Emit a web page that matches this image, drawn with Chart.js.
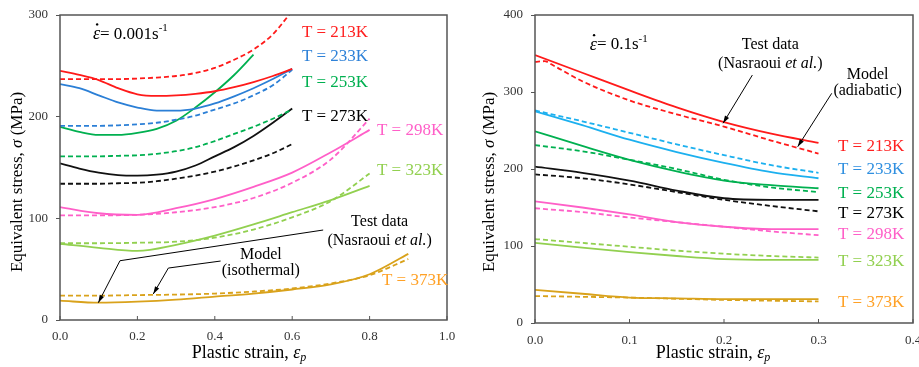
<!DOCTYPE html>
<html>
<head>
<meta charset="utf-8">
<script src="https://cdn.jsdelivr.net/npm/chart.js@4.4.0/dist/chart.umd.min.js"></script>
<style>
  html, body { margin: 0; padding: 0; background: #fff; }
  #wrap { position: relative; width: 919px; height: 367px; overflow: hidden; }
  canvas { position: absolute; top: 0; }
  #chartLeft { left: 0; }
  #chartRight { left: 460px; }
</style>
</head>
<body>
<div id="wrap">
  <canvas id="chartLeft" width="460" height="367"></canvas>
  <canvas id="chartRight" width="459" height="367"></canvas>
</div>
<script>
// ---- strain rate 0.001 /s (isothermal model) ----
const slowStrain = [0, 0.05, 0.1, 0.15, 0.2, 0.25, 0.3, 0.35, 0.4, 0.45, 0.5, 0.55, 0.6];
const slowStrain253 = [0, 0.05, 0.1, 0.15, 0.2, 0.25, 0.3, 0.35, 0.4, 0.45, 0.5];
const slowStrainLong = [0, 0.1, 0.2, 0.3, 0.4, 0.5, 0.6, 0.7, 0.8];
const slowStrain373 = [0, 0.1, 0.2, 0.3, 0.4, 0.5, 0.6, 0.7, 0.8, 0.9];

const slowTest213 = [245, 241, 236, 228, 222, 220.5, 221, 222.5, 225, 229, 234, 240, 247];
const slowModel213 = [237, 237, 237, 237, 237.5, 238.5, 240, 243, 248, 256, 266, 281, 304];
const slowTest233 = [232, 228, 221, 214, 209, 206, 206, 208, 213, 220, 228, 237, 247];
const slowModel233 = [191, 191, 191, 191.5, 192.5, 194, 197, 201, 207, 213, 221, 231, 246];
const slowTest253 = [190, 185, 182, 182, 184, 188, 196, 209, 224, 241, 261];
const slowModel253 = [161, 161, 161, 161.5, 162, 163.5, 166, 170, 176, 183, 190, 198, 207];
const slowTest273 = [154, 149, 145, 142.5, 142, 143, 146, 152, 161, 170, 181, 194, 208];
const slowModel273 = [134, 134, 134, 134.5, 135, 136.5, 139, 142, 146, 151, 157, 164, 173];
const slowTest298 = [111, 105, 103.5, 110, 119, 131, 145, 165, 187];
const slowModel298 = [103, 103, 103.5, 106, 111, 120, 135, 158, 198];
const slowTest323 = [75, 71, 68, 74, 83, 94, 106, 118, 132];
const slowModel323 = [75.5, 75.5, 76, 77, 81, 89, 101, 117, 144];
const slowTest373 = [19, 17, 18, 20, 23, 26, 30, 35, 45, 65];
const slowModel373 = [24, 24, 24.5, 25, 26, 28, 31, 36, 44, 60];

// ---- strain rate 0.1 /s (adiabatic model) ----
const fastStrain = [0, 0.05, 0.1, 0.15, 0.2, 0.25, 0.3];
const fastStrain213 = [0, 0.01, 0.02, 0.05, 0.1, 0.15, 0.2, 0.25, 0.3];

const fastTest213 = [348, 325, 302, 280, 261, 246, 234];
const fastModel213 = [339, 340, 334, 314, 289, 271, 255, 237, 220];
const fastTest233 = [275, 257, 238, 222, 208, 196, 188];
const fastModel233 = [276, 262, 247, 232, 218, 205, 195];
const fastTest253 = [249, 230, 212, 197, 185, 179, 175];
const fastModel253 = [231, 223, 212, 200, 186, 176, 170];
const fastTest273 = [203, 195, 185, 172, 162, 160, 160];
const fastModel273 = [193, 188, 180, 170, 160, 152, 145];
const fastTest298 = [158, 150, 141, 131, 125, 122, 122];
const fastModel298 = [149, 144, 137, 131, 125, 119, 114];
const fastTest323 = [104, 98, 92, 87, 83, 82, 82];
const fastModel323 = [109, 104, 99, 94, 90, 87, 85];
const fastTest373 = [43, 38, 33, 32, 31, 31, 31];
const fastModel373 = [35, 34, 33, 31.5, 30, 29, 28];

const SERIF = '"Liberation Serif", "DejaVu Serif", serif';

function pts(xs, ys) {
  return xs.map((x, i) => ({ x: x, y: ys[i] }));
}

function curve(xs, ys, color, dashed) {
  return {
    data: pts(xs, ys),
    borderColor: color,
    borderWidth: 1.8,
    borderDash: dashed ? [5, 3] : [],
    pointRadius: 0,
    fill: false,
    cubicInterpolationMode: 'monotone'
  };
}

function font(size, italic) {
  return (italic ? 'italic ' : '') + size + 'px ' + SERIF;
}

// draw a row of text pieces with their own style, aligned as a whole
function drawRuns(ctx, runs, x, y, align) {
  let total = 0;
  runs.forEach(r => {
    ctx.font = font(r.size, r.italic);
    r.w = ctx.measureText(r.t).width;
    total += r.w;
  });
  let cx = align === 'center' ? x - total / 2 : (align === 'right' ? x - total : x);
  runs.forEach(r => {
    ctx.font = font(r.size, r.italic);
    ctx.textAlign = 'left';
    ctx.fillText(r.t, cx, y + (r.dy || 0));
    if (r.dot) {
      ctx.beginPath();
      ctx.arc(cx + r.w * 0.6, y - r.size * 0.55, 1.2, 0, Math.PI * 2);
      ctx.fill();
    }
    cx += r.w;
  });
}

function drawArrow(ctx, path) {
  ctx.beginPath();
  ctx.moveTo(path[0][0], path[0][1]);
  for (let i = 1; i < path.length; i++) ctx.lineTo(path[i][0], path[i][1]);
  ctx.stroke();
  const [x1, y1] = path[path.length - 2];
  const [x2, y2] = path[path.length - 1];
  const a = Math.atan2(y2 - y1, x2 - x1);
  ctx.beginPath();
  ctx.moveTo(x2, y2);
  ctx.lineTo(x2 - 8 * Math.cos(a - 0.3), y2 - 8 * Math.sin(a - 0.3));
  ctx.lineTo(x2 - 8 * Math.cos(a + 0.3), y2 - 8 * Math.sin(a + 0.3));
  ctx.closePath();
  ctx.fill();
}

// frame, inward ticks, axis titles and the notes on the plot
function makeDecor(spec) {
  return {
    id: 'decor',
    afterDatasetsDraw(chart) {
      const ctx = chart.ctx;
      const a = chart.chartArea;
      const xs = chart.scales.x, ys = chart.scales.y;
      const px = v => xs.getPixelForValue(v);
      const py = v => ys.getPixelForValue(v);
      ctx.save();
      ctx.strokeStyle = '#555';
      ctx.lineWidth = 1.5;
      ctx.strokeRect(a.left, a.top, a.right - a.left, a.bottom - a.top);
      ctx.lineWidth = 1;
      xs.ticks.forEach(t => {
        const x = px(t.value);
        ctx.beginPath();
        ctx.moveTo(x, a.bottom);
        ctx.lineTo(x, a.bottom - 4);
        ctx.stroke();
      });

      ctx.textBaseline = 'middle';
      ctx.fillStyle = '#000';
      // axis titles
      drawRuns(ctx, [
        { t: 'Plastic strain, ', size: 18 },
        { t: 'ε', size: 18, italic: true },
        { t: 'p', size: 12, italic: true, dy: 5 }
      ], spec.xTitle[0], spec.xTitle[1], 'center');
      ctx.save();
      ctx.translate(spec.yTitle[0], spec.yTitle[1]);
      ctx.rotate(-Math.PI / 2);
      drawRuns(ctx, [
        { t: 'Equivalent stress, ', size: 17 },
        { t: 'σ', size: 17, italic: true },
        { t: ' (MPa)', size: 17 }
      ], 0, 0, 'center');
      ctx.restore();

      // strain rate note
      drawRuns(ctx, [
        { t: 'ε', size: 18, italic: true, dot: true },
        { t: '= ' + spec.rate + 's', size: 17 },
        { t: '-1', size: 11, dy: -6 }
      ], px(spec.rateAt[0]), py(spec.rateAt[1]), 'left');

      // temperature labels
      spec.labels.forEach(l => {
        ctx.fillStyle = l.color;
        drawRuns(ctx, [{ t: 'T = ' + l.t, size: 17 }], px(l.x), py(l.y), 'left');
      });

      // notes with leader arrows
      ctx.fillStyle = '#000';
      spec.notes.forEach(n => {
        drawRuns(ctx, n.lines[0], px(n.x), py(n.y[0]), 'center');
        drawRuns(ctx, n.lines[1], px(n.x), py(n.y[1]), 'center');
      });
      ctx.strokeStyle = '#000';
      ctx.lineWidth = 1;
      spec.arrows.forEach(p => drawArrow(ctx, p.map(q => [px(q[0]), py(q[1])])));
      ctx.restore();
    }
  };
}

const testNote = [
  [{ t: 'Test data', size: 16 }],
  [{ t: '(Nasraoui ', size: 16 }, { t: 'et al.', size: 16, italic: true }, { t: ')', size: 16 }]
];

function makeChart(id, datasets, axes, spec) {
  const tickFont = { family: SERIF, size: 13 };
  return new Chart(document.getElementById(id), {
    type: 'line',
    data: { datasets: datasets },
    options: {
      responsive: false,
      animation: false,
      layout: { padding: { top: 15, right: axes.padRight, left: 0, bottom: 0 } },
      plugins: { legend: { display: false }, tooltip: { enabled: false } },
      scales: {
        x: {
          type: 'linear', min: 0, max: axes.xMax,
          border: { display: false },
          grid: { display: false },
          ticks: {
            stepSize: axes.xStep, color: '#333', font: tickFont, padding: axes.xPad,
            maxRotation: 0, autoSkip: false,
            callback: v => v.toFixed(1)
          },
          afterFit: s => { s.height = axes.xHeight; s.paddingLeft = 0; s.paddingRight = 0; }
        },
        y: {
          min: 0, max: axes.yMax,
          border: { display: false },
          grid: { drawOnChartArea: false, drawTicks: true, tickLength: 4, color: '#555' },
          ticks: { stepSize: 100, color: '#333', font: tickFont, padding: 8 },
          afterFit: s => { s.width = axes.yWidth; s.paddingTop = 0; s.paddingBottom = 0; }
        }
      }
    },
    plugins: [makeDecor(spec)]
  });
}

// line and label colours
const RED = '#ff1a1a', BLUE = '#2b7fd6', GREEN = '#00b050', BLACK = '#111111';
const PINK = '#ff5fc8', LIME = '#92d050', GOLD = '#d9a21b', ORANGE = '#ffa126';
const CYAN = '#1cb0ef';

makeChart('chartLeft', [
  curve(slowStrain, slowTest213, RED, false),
  curve(slowStrain, slowModel213, RED, true),
  curve(slowStrain, slowTest233, BLUE, false),
  curve(slowStrain, slowModel233, BLUE, true),
  curve(slowStrain253, slowTest253, GREEN, false),
  curve(slowStrain, slowModel253, GREEN, true),
  curve(slowStrain, slowTest273, BLACK, false),
  curve(slowStrain, slowModel273, BLACK, true),
  curve(slowStrainLong, slowTest298, PINK, false),
  curve(slowStrainLong, slowModel298, PINK, true),
  curve(slowStrainLong, slowTest323, LIME, false),
  curve(slowStrainLong, slowModel323, LIME, true),
  curve(slowStrain373, slowTest373, GOLD, false),
  curve(slowStrain373, slowModel373, GOLD, true)
], { xMax: 1, xStep: 0.2, yMax: 300, xHeight: 47, yWidth: 60, padRight: 13, xPad: 1 }, {
  xTitle: [249, 353],
  yTitle: [18, 182],
  rate: '0.001',
  rateAt: [0.085, 281],
  labels: [
    { t: '213K', x: 0.625, y: 282.5, color: '#ff2020' },
    { t: '233K', x: 0.625, y: 259, color: '#2f82d8' },
    { t: '253K', x: 0.625, y: 234, color: GREEN },
    { t: '273K', x: 0.625, y: 200, color: '#000' },
    { t: '298K', x: 0.819, y: 186, color: PINK },
    { t: '323K', x: 0.819, y: 147.5, color: LIME },
    { t: '373K', x: 0.832, y: 39.3, color: ORANGE }
  ],
  notes: [
    { lines: testNote, x: 0.826, y: [96.6, 77.7] },
    { lines: [[{ t: 'Model', size: 16 }], [{ t: '(isothermal)', size: 16 }]], x: 0.519, y: [63.9, 48.5] }
  ],
  arrows: [
    [[0.680, 88.5], [0.155, 58.3], [0.099, 17]],
    [[0.415, 58], [0.28, 51.1], [0.241, 25.6]]
  ]
});

makeChart('chartRight', [
  curve(fastStrain, fastTest213, RED, false),
  curve(fastStrain213, fastModel213, RED, true),
  curve(fastStrain, fastTest233, CYAN, false),
  curve(fastStrain, fastModel233, CYAN, true),
  curve(fastStrain, fastTest253, GREEN, false),
  curve(fastStrain, fastModel253, GREEN, true),
  curve(fastStrain, fastTest273, BLACK, false),
  curve(fastStrain, fastModel273, BLACK, true),
  curve(fastStrain, fastTest298, PINK, false),
  curve(fastStrain, fastModel298, PINK, true),
  curve(fastStrain, fastTest323, LIME, false),
  curve(fastStrain, fastModel323, LIME, true),
  curve(fastStrain, fastTest373, GOLD, false),
  curve(fastStrain, fastModel373, GOLD, true)
], { xMax: 0.4, xStep: 0.1, yMax: 400, xHeight: 44, yWidth: 75, padRight: 6, xPad: 2 }, {
  xTitle: [253, 353],
  yTitle: [30, 182],
  rate: '0.1',
  rateAt: [0.058, 361],
  labels: [
    { t: '213K', x: 0.3206, y: 229, color: '#ff2020' },
    { t: '233K', x: 0.3206, y: 198.7, color: '#2f8fe0' },
    { t: '253K', x: 0.3206, y: 168.4, color: GREEN },
    { t: '273K', x: 0.3206, y: 142.5, color: '#000' },
    { t: '298K', x: 0.3206, y: 114.3, color: PINK },
    { t: '323K', x: 0.3206, y: 79.6, color: LIME },
    { t: '373K', x: 0.3206, y: 26.4, color: ORANGE }
  ],
  notes: [
    { lines: testNote, x: 0.249, y: [361, 336] },
    { lines: [[{ t: 'Model', size: 16 }], [{ t: '(adiabatic)', size: 16 }]], x: 0.352, y: [322, 301.7] }
  ],
  arrows: [
    [[0.230, 322], [0.199, 259.4]],
    [[0.314, 298.3], [0.278, 229]]
  ]
});
</script>
</body>
</html>
